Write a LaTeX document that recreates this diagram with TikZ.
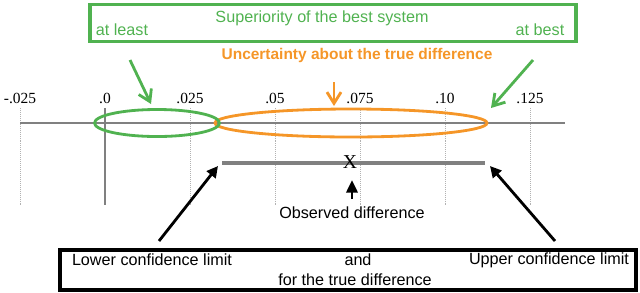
\documentclass[tikz,border=0pt]{standalone}
\usepackage{fontspec}
\setmainfont{Liberation Serif}
\setsansfont{Liberation Sans}
\usepackage{xcolor}
\usetikzlibrary{arrows.meta,positioning,shapes.geometric}
\definecolor{supgreen}{RGB}{80,178,80}
\definecolor{uncorange}{RGB}{245,150,40}
\definecolor{axisgray}{RGB}{128,128,128}

\begin{document}
\begin{tikzpicture}[x=0.025cm,y=-0.025cm,>={Straight Barb[length=8pt,width=10pt]},
  font=\sffamily\fontsize{11.5}{13}\selectfont]
\useasboundingbox (0,0) rectangle (640,292);
% scale
\foreach \x/\lab in {20/-.025,105/.0,190/.025,275/.05,360/.075,445/.10,530/.125}{
  \draw[gray!60,densely dotted] (\x,108) -- (\x,205);
  \node[font=\rmfamily\fontsize{11}{12}\selectfont] (t\x) at (\x,98) {\lab};
}
\draw[axisgray,line width=1.4pt] (20,123) -- (565,123);
\draw[axisgray,line width=1pt] (105,108) -- (105,205);
% ellipses
\node[draw=uncorange,ellipse,line width=2pt,inner sep=0,minimum width=6.8cm,minimum height=0.7cm] (unc) at (351,123) {};
\node[draw=supgreen,ellipse,line width=2pt,inner sep=0,minimum width=3.125cm,minimum height=0.675cm] (sup) at (157,123) {};
% interval
\node[fill=axisgray,inner sep=0,minimum width=6.575cm,minimum height=0.12cm] (bar) at (353.5,163) {};
\node[font=\rmfamily\fontsize{14}{14}\selectfont,inner sep=0] (obs) at (350,162) {X};
% top box
\node[draw=supgreen,line width=2.5pt,minimum width=12.15cm,minimum height=0.92cm,inner sep=0] (topbox) at (333,23) {};
\node[text=supgreen] (title) at (322,18) {Superiority of the best system};
\node[text=supgreen] (least) at (122,30) {at least};
\node[text=supgreen] (best) at (540,30) {at best};
\node[text=uncorange,font=\sffamily\bfseries\fontsize{11}{13}\selectfont] (unctext) at (357,55) {Uncertainty about the true difference};
% bottom box
\node[draw,line width=2.5pt,minimum width=14.4cm,minimum height=1cm,inner sep=0] (botbox) at (348,270) {};
\node (lower) at (152,260) {Lower confidence limit};
\node (and) at (358,260) {and};
\node (upper) at (549,260) {Upper confidence limit};
\node (true) at (355,280) {for the true difference};
\node (obstext) at (352,213) {Observed difference};
% arrows
\coordinate (leastfoot) at (130,60);
\coordinate (leasttip) at (151,104);
\coordinate (bestfoot) at (533,60);
\coordinate (besttip) at (491,108);
\coordinate (uncfoot) at (334,82);
\coordinate (unctip) at (334,106);
\coordinate (lowfoot) at (159,241);
\coordinate (lowtip) at (218,166);
\coordinate (upfoot) at (555,241);
\coordinate (uptip) at (490,166);
\coordinate (obsfoot) at (352,199);
\coordinate (obstip) at (352,180);
\draw[->,supgreen,line width=2pt] (leastfoot) -- (leasttip);
\draw[->,supgreen,line width=2pt] (bestfoot) -- (besttip);
\draw[->,uncorange,line width=2pt] (uncfoot) -- (unctip);
\draw[-{Triangle[length=8pt,width=8pt]},line width=2pt] (lowfoot) -- (lowtip);
\draw[-{Triangle[length=8pt,width=8pt]},line width=2pt] (upfoot) -- (uptip);
\draw[-{Triangle[length=9pt,width=8pt]},line width=2pt] (obsfoot) -- (obstip);
\end{tikzpicture}
\end{document}
